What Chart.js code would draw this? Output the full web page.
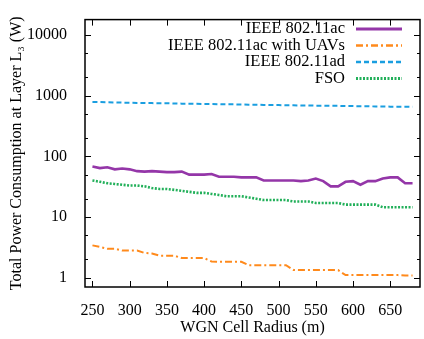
<!DOCTYPE html>
<html>
<head>
<meta charset="utf-8">
<script src="https://cdn.jsdelivr.net/npm/chart.js@4"></script>
<style>
  html, body { margin: 0; padding: 0; background: #fff; }
  #wrap { width: 424px; height: 339px; }
</style>
</head>
<body>
<div id="wrap"><canvas id="c" width="424" height="339"></canvas></div>
<script>
// cell radius (m)
const radius = [250, 260, 270, 280, 290, 300, 310, 320, 330, 340, 350, 360, 370, 380, 390,
  400, 410, 420, 430, 440, 450, 460, 470, 480, 490, 500, 510, 520, 530, 540,
  550, 560, 570, 580, 590, 600, 610, 620, 630, 640, 650, 660, 670, 680];

const ac = [68, 64, 66, 61, 63, 61, 57, 56, 57, 56, 55, 55, 56, 50, 50,
  50, 51, 46, 46, 46, 45, 45, 45, 40, 40, 40, 40, 40, 39, 40,
  43, 39, 32, 32, 38, 39, 34, 39, 39, 43, 45, 45, 36, 36];

const acUav = [3.4, 3.2, 3.0, 3.0, 2.8, 2.8, 2.8, 2.55, 2.5, 2.3, 2.3, 2.3, 2.1, 2.1, 2.1,
  2.1, 1.85, 1.82, 1.82, 1.82, 1.82, 1.6, 1.6, 1.6, 1.6, 1.6, 1.6, 1.34, 1.33, 1.33,
  1.33, 1.33, 1.33, 1.33, 1.1, 1.1, 1.1, 1.1, 1.1, 1.1, 1.1, 1.1, 1.08, 1.08];

const ad = [790, 785, 780, 775, 770, 765, 760, 760, 755, 750, 750, 745, 740, 740, 735,
  730, 730, 725, 720, 720, 715, 710, 710, 705, 700, 700, 695, 695, 690, 690,
  685, 685, 680, 680, 675, 675, 670, 670, 665, 665, 660, 660, 660, 655];

const fso = [40, 38, 36, 35, 34, 33, 33, 32, 30, 29, 29, 28, 27, 26, 25,
  25, 24, 23, 22, 22, 22, 21, 20, 19, 19, 19, 19, 18, 18, 18,
  17, 17, 17, 17, 16, 16, 16, 16, 16, 14.5, 14.5, 14.5, 14.5, 14.5];

const xTicks = [250, 300, 350, 400, 450, 500, 550, 600, 650];
const yTicks = [1, 10, 100, 1000, 10000];
const yMinor = [2, 5, 20, 50, 200, 500, 2000, 5000];

const seriesNames = ["IEEE 802.11ac", "IEEE 802.11ac with UAVs", "IEEE 802.11ad", "FSO"];
const colors = ["#9436a8", "#ff8a1c", "#1a9ee0", "#22b05a"];
const dashes = [[], [7, 3, 2, 3], [5, 3], [2, 1.5]];
const widths = [2.6, 2, 2, 2.6];

const FONT = "Liberation Serif";

const pts = arr => arr.map((v, i) => ({ x: radius[i], y: v }));

// inward tick marks + frame, like gnuplot
const frameTicks = {
  id: "frameTicks",
  afterDraw(chart) {
    const { ctx, chartArea: a, scales } = chart;
    ctx.save();
    ctx.strokeStyle = "#000";
    ctx.lineWidth = 1;
    ctx.beginPath();
    xTicks.forEach(t => {
      const x = Math.round(scales.x.getPixelForValue(t)) + 0.5;
      ctx.moveTo(x, a.bottom); ctx.lineTo(x, a.bottom - 6);
      ctx.moveTo(x, a.top); ctx.lineTo(x, a.top + 6);
    });
    yTicks.forEach(t => {
      const y = Math.round(scales.y.getPixelForValue(t)) + 0.5;
      ctx.moveTo(a.left, y); ctx.lineTo(a.left + 6, y);
      ctx.moveTo(a.right, y); ctx.lineTo(a.right - 6, y);
    });
    yMinor.forEach(t => {
      const y = Math.round(scales.y.getPixelForValue(t)) + 0.5;
      ctx.moveTo(a.left, y); ctx.lineTo(a.left + 3, y);
      ctx.moveTo(a.right, y); ctx.lineTo(a.right - 3, y);
    });
    ctx.stroke();
    ctx.lineWidth = 1.5;
    ctx.strokeRect(a.left, a.top, a.right - a.left, a.bottom - a.top);
    ctx.restore();
  }
};

// legend: right aligned text, sample line on the right
const sideLegend = {
  id: "sideLegend",
  afterDraw(chart) {
    const { ctx } = chart;
    ctx.save();
    ctx.font = "16.5px '" + FONT + "'";
    ctx.textAlign = "right";
    ctx.textBaseline = "middle";
    seriesNames.forEach((name, i) => {
      const y = 29 + i * 16.5;
      ctx.fillStyle = "#000";
      ctx.fillText(name, 345, y);
      ctx.strokeStyle = colors[i];
      ctx.lineWidth = widths[i] + 0.4;
      ctx.setLineDash(dashes[i]);
      ctx.beginPath();
      ctx.moveTo(356, y); ctx.lineTo(402, y);
      ctx.stroke();
    });
    ctx.restore();
  }
};

new Chart(document.getElementById("c"), {
  type: "line",
  data: {
    datasets: [ac, acUav, ad, fso].map((arr, i) => ({
      label: seriesNames[i],
      data: pts(arr),
      borderColor: colors[i],
      borderWidth: widths[i],
      borderDash: dashes[i],
      pointRadius: 0,
      fill: false,
      tension: 0
    }))
  },
  options: {
    responsive: false,
    animation: false,
    layout: { padding: { left: 0, right: 4, top: 6, bottom: 0 } },
    plugins: { legend: { display: false }, tooltip: { enabled: false } },
    scales: {
      x: {
        type: "linear",
        min: 240,
        max: 690,
        afterBuildTicks: s => { s.ticks = xTicks.map(v => ({ value: v })); },
        afterFit: s => { s.height = 52; },
        grid: { display: false },
        border: { display: false },
        ticks: { color: "#000", padding: 6, maxRotation: 0, font: { family: FONT, size: 16 } },
        title: {
          display: true, text: "WGN Cell Radius (m)", color: "#000",
          font: { family: FONT, size: 16 }, padding: { top: 0, bottom: 2 }
        }
      },
      y: {
        type: "logarithmic",
        min: 0.72,
        max: 18000,
        afterBuildTicks: s => { s.ticks = yTicks.map(v => ({ value: v })); },
        afterFit: s => { s.width = 85; },
        grid: { display: false },
        border: { display: false },
        ticks: { color: "#000", padding: 10, font: { family: FONT, size: 16 }, callback: v => String(v) },
        title: {
          display: true, text: "Total Power Consumption at Layer L\u2083 (W)", color: "#000",
          font: { family: FONT, size: 16 }, padding: { top: 7, bottom: 0 }
        }
      }
    }
  },
  plugins: [frameTicks, sideLegend]
});
</script>
</body>
</html>
